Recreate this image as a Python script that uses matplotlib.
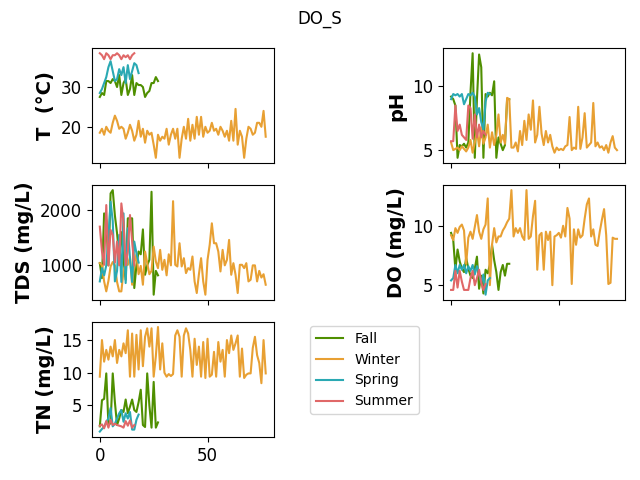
import numpy as np
import matplotlib.pyplot as plt

seasons = ['Fall', 'Winter', 'Spring', 'Summer']
colors = ['#4f8f00', '#e8a033', '#2aa9b3', '#e06868']

# Температура
T_fall = [27.5, 28.5, 28.0, 31.5, 31.5, 31.0, 32.0, 31.5, 30.0, 33.0, 28.0, 31.0, 32.0, 28.0,
          29.5, 33.0, 28.0, 31.0, 30.5, 30.5, 30.0, 27.5, 28.5, 29.0, 31.0, 31.0, 32.5, 31.5]
T_winter = [18.5, 19.5, 18.0, 20.0, 19.0, 18.5, 21.0, 22.8, 21.5, 19.5,
            20.0, 19.5, 17.0, 18.5, 20.5, 19.0, 16.5, 18.0, 21.5, 17.5,
            19.5, 16.0, 19.0, 18.0, 18.5, 15.5, 12.2, 18.0, 16.5, 17.5,
            17.0, 19.5, 15.5, 18.0, 19.5, 17.0, 19.5, 12.2, 17.0, 20.0,
            17.0, 22.0, 16.5, 20.5, 17.0, 22.5, 18.0, 22.5, 17.5, 20.0,
            18.5, 19.0, 21.0, 19.0, 19.5, 18.0, 20.0, 19.0, 17.5, 19.0,
            16.5, 21.5, 16.5, 24.5, 15.5, 19.0, 17.5, 12.2, 17.0, 20.0,
            19.5, 18.0, 18.5, 21.0, 21.0, 20.0, 24.0, 17.5]
T_spring = [28.5, 29.5, 31.0, 32.5, 35.0, 36.5, 34.0, 31.5, 32.0, 34.5, 33.0, 35.0, 31.0,
            35.5, 32.0, 34.0, 36.0, 35.5, 33.5]
T_summer = [38.5, 38.0, 37.0, 38.5, 38.0, 37.0, 38.0, 38.0, 38.5, 38.0, 37.0, 38.0, 37.5,
            38.0, 37.0, 38.0, 38.5]

# pH
pH_fall = [9.2, 9.0, 8.5, 4.4, 5.4, 5.3, 5.5, 5.2, 5.6, 9.5, 12.6, 4.4, 9.0, 12.5,
           11.5, 4.4, 9.4, 9.2, 9.5, 9.3, 10.4, 4.4, 6.0, 5.5, 5.0, 5.4, 9.0, 9.0]
pH_winter = [5.6, 5.0, 5.1, 5.2, 5.0, 5.3, 5.1, 4.9, 5.2, 5.8,
             4.8, 5.6, 6.5, 5.3, 6.8, 5.5, 6.0, 7.0, 5.2, 6.4,
             5.4, 6.2, 7.8, 5.6, 6.2, 5.5, 9.1, 9.0, 5.2, 5.2,
             5.6, 4.9, 6.5, 5.4, 7.3, 5.8, 7.8, 6.6, 8.9, 5.6,
             6.2, 8.4, 6.3, 5.4, 6.5, 5.6, 6.2, 5.3, 4.8, 5.2,
             5.0, 5.1, 5.0, 5.3, 5.4, 7.6, 5.0, 5.2, 5.1, 8.4,
             5.1, 6.0, 7.9, 5.2, 5.4, 5.6, 8.7, 5.3, 5.6, 5.2,
             5.3, 5.0, 5.4, 4.8, 5.6, 6.1, 5.2, 5.0]
pH_spring = [9.0, 9.4, 9.3, 9.4, 9.2, 9.4, 8.6, 9.0, 9.4, 9.3, 9.5, 9.2, 7.8, 8.3,
             7.2, 6.6, 8.8, 9.5, 9.4]
pH_summer = [5.7, 5.7, 8.5, 6.5, 7.0, 6.2, 6.0, 5.8, 8.5, 8.3, 5.9, 7.8, 6.0, 7.0,
             6.0, 6.5, 6.2]

# TDS
TDS_fall = [1040, 770, 1940, 1820, 1000, 2300, 2360, 1900, 1580, 1160, 1600, 1100, 740, 1850,
            1850, 1850, 590, 1000, 1250, 1200, 1650, 830, 1000, 1100, 2330, 470, 900, 820]
TDS_winter = [1040, 1000, 710, 530, 720, 980, 1060, 1000, 700, 530,
              530, 900, 1000, 1010, 1150, 650, 1040, 1200, 840, 990,
              650, 1250, 1040, 840, 900, 1340, 1070, 950, 1280, 920,
              1100, 820, 1200, 1000, 2160, 1010, 980, 1400, 980, 1130,
              860, 950, 920, 1160, 710, 500, 840, 1130, 710, 470,
              1100, 1370, 1760, 1400, 1400, 1250, 890, 1280, 1000, 1100,
              1460, 830, 1040, 830, 500, 1010, 1010, 950, 1040, 710,
              740, 1000, 1000, 710, 900, 780, 840, 650]
TDS_spring = [710, 950, 820, 1000, 1500, 2150, 1800, 710, 900, 1550, 700, 1940, 680, 1670,
              1130, 700, 1430, 1220, 1050]
TDS_summer = [1700, 1250, 1010, 2090, 1000, 1640, 1550, 1050, 1430, 1000, 2120, 1790, 1000,
              1250, 1910, 1430, 1000]

# DO
DO_fall = [9.4, 8.8, 6.3, 8.0, 7.0, 6.4, 6.1, 7.3, 6.4, 5.8, 5.6, 6.4, 7.4, 4.7,
           5.8, 4.3, 6.3, 6.0, 6.7, 8.4, 7.1, 6.1, 4.6, 6.1, 6.7, 5.8, 6.8, 6.8]
DO_winter = [9.2, 8.8, 9.8, 9.4, 9.9, 10.1, 9.6, 6.8, 9.0, 9.5,
             8.9, 9.9, 10.9, 9.5, 8.9, 9.7, 10.1, 12.3, 5.0, 8.4,
             9.8, 8.6, 9.1, 9.1, 9.6, 9.9, 10.3, 10.6, 13.0, 9.1,
             9.8, 9.4, 9.8, 9.1, 8.8, 13.0, 8.9, 9.1, 10.8, 12.1,
             6.3, 9.2, 9.4, 6.3, 9.5, 8.8, 9.5, 5.0, 9.1, 9.2,
             9.4, 9.0, 10.0, 9.1, 11.5, 10.6, 5.1, 9.7, 8.4, 9.7,
             9.0, 9.2, 10.6, 11.8, 12.3, 9.1, 9.7, 8.4, 8.3, 9.5,
             10.5, 11.4, 9.2, 5.1, 5.2, 9.0, 8.9, 8.9]
DO_spring = [5.4, 5.6, 6.7, 6.0, 6.7, 6.3, 6.7, 6.0, 6.6, 6.2, 6.7, 5.9, 6.6, 6.0,
             5.2, 5.9, 4.2, 5.4, 5.6]
DO_summer = [4.6, 4.6, 6.2, 4.8, 6.2, 5.3, 4.6, 4.6, 4.6, 5.6, 6.2, 5.0, 5.6, 6.3,
             5.2, 4.6, 5.1]

# TN
TN_fall = [1.8, 5.8, 6.0, 9.9, 2.0, 2.3, 9.9, 5.5, 2.0, 3.0, 4.3, 4.0, 5.9, 3.8,
           4.8, 5.9, 4.3, 4.0, 5.5, 7.4, 2.0, 1.7, 9.9, 5.0, 1.6, 8.6, 1.6, 2.4]
TN_winter = [9.4, 15.0, 11.7, 13.5, 12.0, 14.0, 12.5, 15.0, 11.5, 13.5,
             12.5, 14.5, 13.0, 16.5, 9.4, 16.0, 9.4, 15.8, 10.5, 16.5,
             11.0, 15.5, 16.8, 14.0, 16.8, 9.4, 12.5, 17.0, 10.5, 14.5,
             10.0, 9.4, 9.8, 9.5, 9.8, 15.7, 16.5, 15.5, 9.4, 15.7,
             16.8, 16.0, 13.5, 9.4, 15.2, 11.2, 14.0, 9.4, 14.7, 9.2,
             15.2, 9.4, 9.7, 13.2, 9.4, 14.7, 11.7, 13.5, 9.4, 15.0,
             13.0, 15.7, 13.5, 14.5, 15.7, 9.4, 13.7, 9.2, 9.7, 9.9,
             9.9, 13.8, 15.5, 12.7, 11.5, 8.4, 15.0, 9.9]
TN_spring = [1.0, 1.4, 1.7, 2.5, 3.0, 4.6, 1.8, 2.2, 3.0, 3.8, 4.3, 2.5, 3.8, 3.0,
             4.0, 1.3, 1.3, 2.8, 3.6]
TN_summer = [1.9, 2.1, 1.5, 2.6, 1.6, 2.8, 2.0, 2.2, 2.0, 1.9, 1.8, 1.6, 2.6, 1.9,
             2.7, 1.6, 2.0]

panels = [
    ('T  (°C)', [T_fall, T_winter, T_spring, T_summer]),
    ('pH', [pH_fall, pH_winter, pH_spring, pH_summer]),
    ('TDS (mg/L)', [TDS_fall, TDS_winter, TDS_spring, TDS_summer]),
    ('DO (mg/L)', [DO_fall, DO_winter, DO_spring, DO_summer]),
    ('TN (mg/L)', [TN_fall, TN_winter, TN_spring, TN_summer]),
]

fig, axes = plt.subplots(3, 2, sharex=True, figsize=(6.4, 4.8), dpi=100)
fig.subplots_adjust(left=0.143, right=0.977, top=0.90, bottom=0.09,
                    wspace=0.925, hspace=0.19)
axes = axes.flatten()

for ax, (label, series) in zip(axes, panels):
    for name, vals, c in zip(seasons, series, colors):
        ax.plot(np.arange(len(vals)), vals, color=c, lw=1.5, label=name)
    ax.set_ylabel(label, fontsize=14, fontweight='bold')
    ax.tick_params(labelsize=12)

axes[5].axis('off')
handles, labels = axes[0].get_legend_handles_labels()
fig.legend(handles, labels, loc='upper left', bbox_to_anchor=(310 / 640, 1 - 326 / 480),
           borderaxespad=0)

fig.suptitle('DO_S')
fig.savefig('out.png')
